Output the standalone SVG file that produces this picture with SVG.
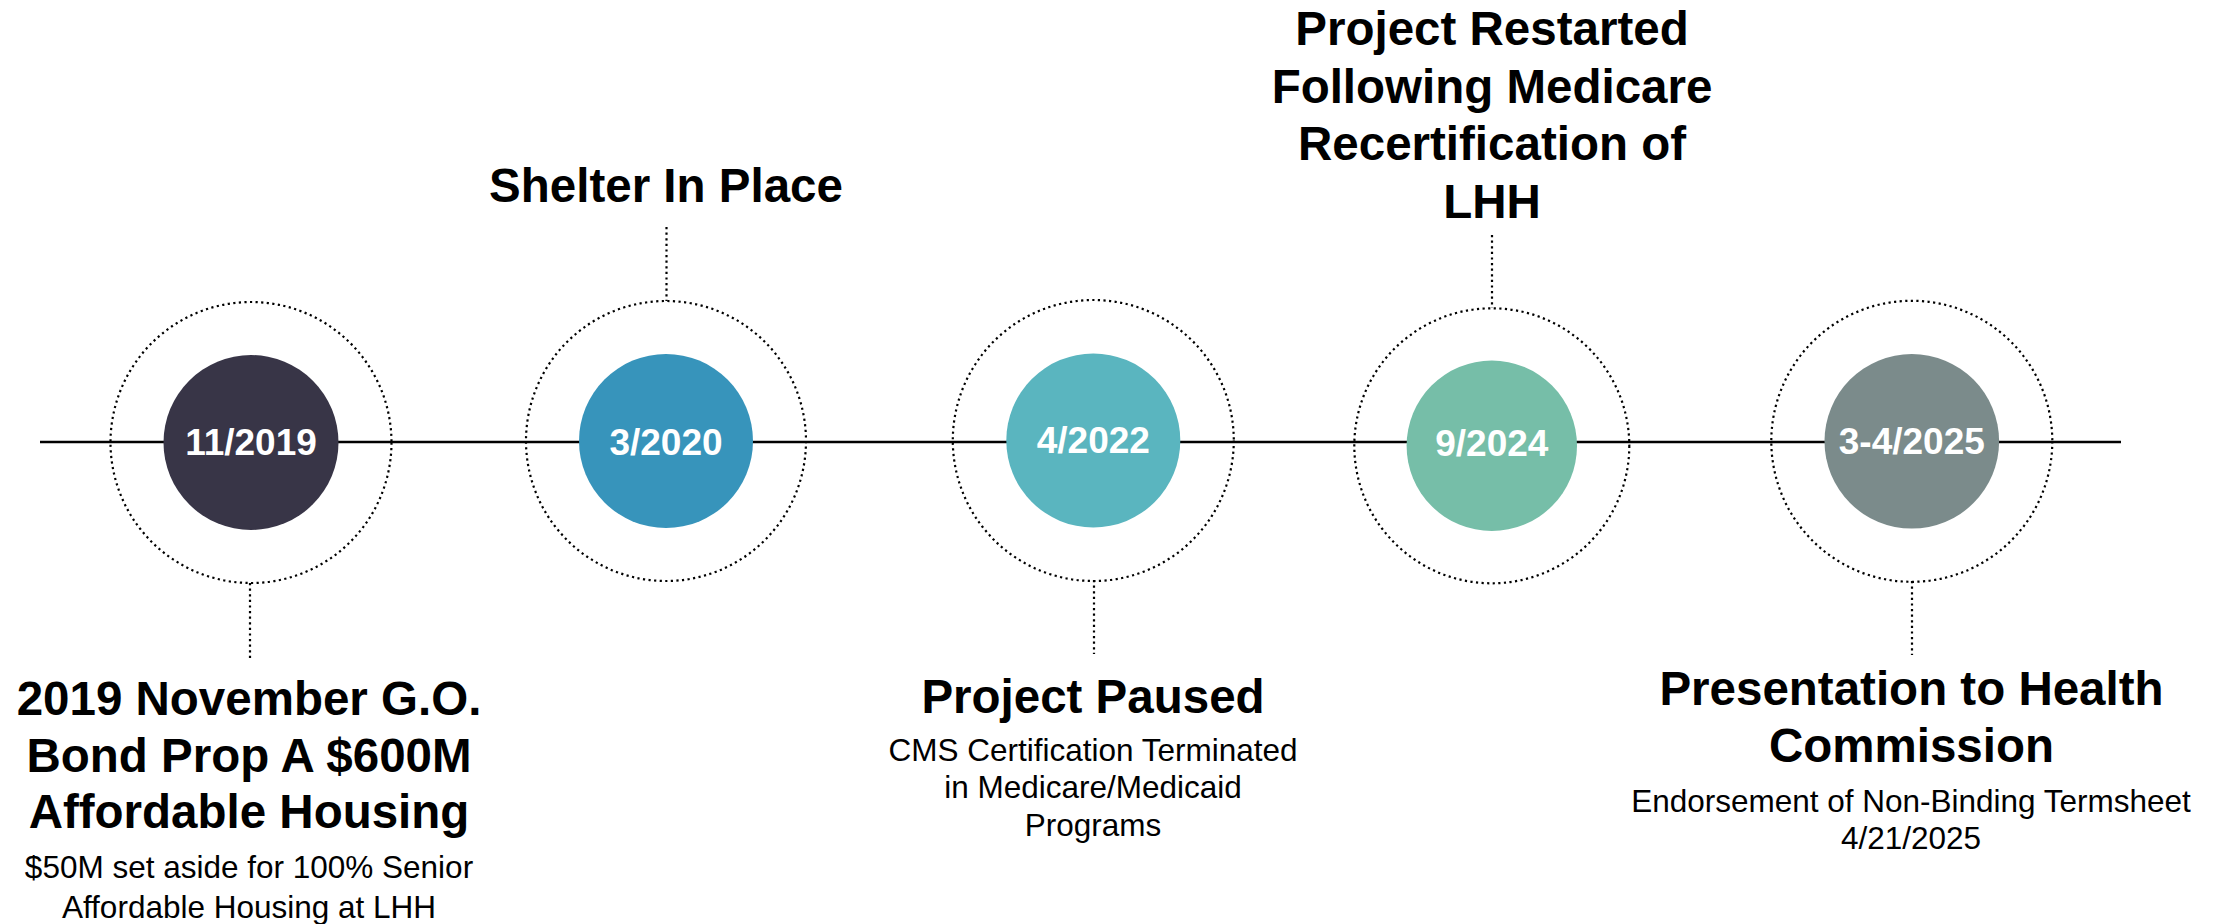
<svg xmlns="http://www.w3.org/2000/svg" width="2225" height="924" viewBox="0 0 2225 924">
<style>
.bg{fill:#ffffff}
.axis{stroke:#000;stroke-width:2.4;fill:none}
.dot{stroke:#000;stroke-width:2.2;fill:none;stroke-dasharray:2.2 3.4}
.date{font-family:"Liberation Sans",Arial,sans-serif;font-weight:bold;font-size:37px;fill:#ffffff;text-anchor:middle}
.title{font-family:"Liberation Sans",Arial,sans-serif;font-weight:bold;font-size:47.5px;fill:#000;text-anchor:middle}
.sub{font-family:"Liberation Sans",Arial,sans-serif;font-size:31.5px;fill:#000;text-anchor:middle}
</style>
<rect class="bg" x="0" y="0" width="2225" height="924"/>
<g id="connectors">
<line class="axis" x1="40" y1="442" x2="2121" y2="442"/>
<line class="dot" x1="250" y1="583" x2="250" y2="661"/>
<line class="dot" x1="666.5" y1="227" x2="666.5" y2="301"/>
<line class="dot" x1="1094" y1="580" x2="1094" y2="654"/>
<line class="dot" x1="1492" y1="235" x2="1492" y2="308"/>
<line class="dot" x1="1912" y1="581" x2="1912" y2="655"/>
</g>
<g id="node-2019">
<circle class="dot" cx="251" cy="442.5" r="140.5"/>
<circle cx="251" cy="442.5" r="87.5" fill="#383547"/>
<text class="date" x="251" y="455">11/2019</text>
<text class="title" x="249" y="715">2019 November G.O.</text>
<text class="title" x="249" y="771.5">Bond Prop A $600M</text>
<text class="title" x="249" y="828">Affordable Housing</text>
<text class="sub" x="249" y="878">$50M set aside for 100% Senior</text>
<text class="sub" x="249" y="918">Affordable Housing at LHH</text>
</g>
<g id="node-2020">
<circle class="dot" cx="666" cy="441" r="140"/>
<circle cx="666" cy="441" r="87" fill="#3794BB"/>
<text class="date" x="666" y="455">3/2020</text>
<text class="title" x="666" y="201.7">Shelter In Place</text>
</g>
<g id="node-2022">
<circle class="dot" cx="1093.3" cy="440.5" r="140.5"/>
<circle cx="1093.3" cy="440.5" r="87" fill="#5AB5BF"/>
<text class="date" x="1093.3" y="453">4/2022</text>
<text class="title" x="1093" y="712.5">Project Paused</text>
<text class="sub" x="1093" y="760.7">CMS Certification Terminated</text>
<text class="sub" x="1093" y="798">in Medicare/Medicaid</text>
<text class="sub" x="1093" y="835.7">Programs</text>
</g>
<g id="node-2024">
<circle class="dot" cx="1491.8" cy="445.8" r="137.5"/>
<circle cx="1491.8" cy="445.8" r="85.2" fill="#76BEA8"/>
<text class="date" x="1491.8" y="456">9/2024</text>
<text class="title" x="1492" y="45">Project Restarted</text>
<text class="title" x="1492" y="102.7">Following Medicare</text>
<text class="title" x="1492" y="160.3">Recertification of</text>
<text class="title" x="1492" y="218">LHH</text>
</g>
<g id="node-2025">
<circle class="dot" cx="1911.8" cy="441.3" r="140.5"/>
<circle cx="1911.8" cy="441.3" r="87.3" fill="#7B8B8B"/>
<text class="date" x="1911.8" y="454">3-4/2025</text>
<text class="title" x="1911.5" y="705">Presentation to Health</text>
<text class="title" x="1911.5" y="761.5">Commission</text>
<text class="sub" x="1911" y="812">Endorsement of Non-Binding Termsheet</text>
<text class="sub" x="1911" y="848.5">4/21/2025</text>
</g>
</svg>
